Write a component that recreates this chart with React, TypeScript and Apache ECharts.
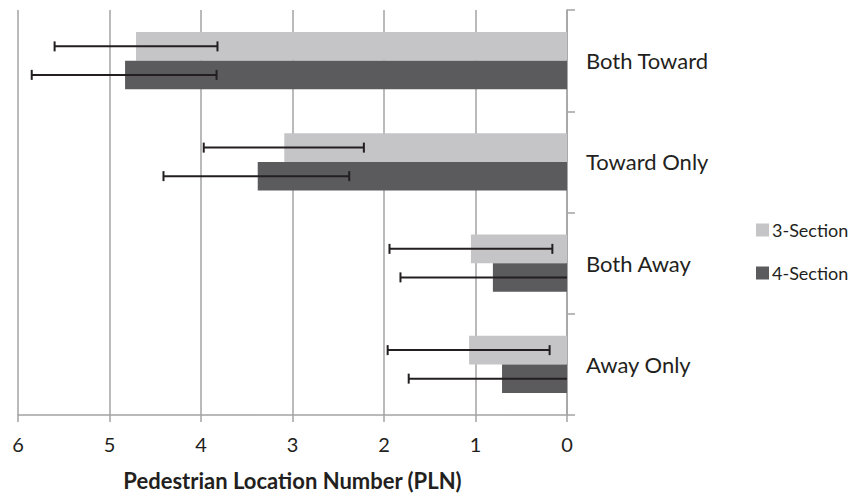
import React, { useEffect, useRef } from "react";
import * as echarts from "echarts";

const categories = ["Both Toward", "Toward Only", "Both Away", "Away Only"];
const seriesNames = ["3-Section", "4-Section"];
const values3 = [4.71, 3.09, 1.05, 1.07];
const values4 = [4.83, 3.38, 0.81, 0.71];
// error bar ends (high = left end, low = right end)
const errHigh3 = [5.6, 3.97, 1.94, 1.96];
const errLow3 = [3.82, 2.22, 0.16, 0.19];
const errHigh4 = [5.85, 4.41, 1.82, 1.73];
const errLow4 = [3.83, 2.38, -0.2, -0.31];
const xTicks = [0, 1, 2, 3, 4, 5, 6];

const colors = ["#c5c5c7", "#5b5b5e"];
const textColor = "#231f20";
const axisColor = "#a3a3a3";
const fontFamily = "Lato, 'Open Sans', sans-serif";
const barCategoryGap = "43.7%";
const gapFrac = 0.437;

function makeErrorSeries(idx: number, high: number[], low: number[]) {
  const data = categories.map((_, i) => [i, high[i], low[i]]);
  return {
    type: "custom",
    name: seriesNames[idx] + " error",
    silent: true,
    z: 5,
    data,
    encode: { x: [1, 2], y: 0 },
    renderItem: (params: any, api: any) => {
      const cat = api.value(0);
      const hi = api.value(1);
      const loRaw = api.value(2);
      const lo = Math.max(loRaw, 0);
      const band = api.size([0, 1])[1];
      const barH = (band * (1 - gapFrac)) / 2;
      const offset = idx === 0 ? -barH / 2 : barH / 2;
      const pHi = api.coord([hi, cat]);
      const pLo = api.coord([lo, cat]);
      const y = pHi[1] + offset;
      const cap = 5;
      const style = { stroke: textColor, lineWidth: 2 };
      const children: any[] = [
        { type: "line", shape: { x1: pHi[0], y1: y, x2: pLo[0], y2: y }, style },
        { type: "line", shape: { x1: pHi[0], y1: y - cap, x2: pHi[0], y2: y + cap }, style },
      ];
      if (loRaw >= 0) {
        children.push({ type: "line", shape: { x1: pLo[0], y1: y - cap, x2: pLo[0], y2: y + cap }, style });
      }
      return { type: "group", children };
    },
  };
}

export default function App() {
  const ref = useRef<HTMLDivElement>(null);
  useEffect(() => {
    if (!ref.current) return;
    const chart = echarts.init(ref.current, undefined, { renderer: "svg" });
    chart.setOption({
      animation: false,
      backgroundColor: "#ffffff",
      textStyle: { fontFamily },
      grid: { left: 18, right: 296, top: 10, bottom: 74, containLabel: false },
      legend: {
        data: seriesNames,
        orient: "vertical",
        left: 751,
        top: 216,
        itemWidth: 13,
        itemHeight: 13,
        itemGap: 25,
        icon: "rect",
        textStyle: { fontFamily, fontSize: 18, color: textColor, padding: [0, 0, 0, -2] },
      },
      xAxis: {
        type: "value",
        inverse: true,
        min: xTicks[0],
        max: xTicks[xTicks.length - 1],
        interval: 1,
        name: "Pedestrian Location Number (PLN)",
        nameLocation: "middle",
        nameGap: 54,
        nameTextStyle: { fontFamily, fontSize: 22, fontWeight: "bold", color: textColor },
        axisLine: { show: true, lineStyle: { color: axisColor, width: 1.5 } },
        axisTick: { show: true, length: 7, lineStyle: { color: axisColor, width: 1.5 } },
        axisLabel: { fontFamily, fontSize: 20, color: textColor, margin: 19 },
        splitLine: { show: true, lineStyle: { color: axisColor, width: 1.5 } },
      },
      yAxis: {
        type: "category",
        data: categories,
        position: "right",
        inverse: true,
        axisLine: { show: true, lineStyle: { color: axisColor, width: 1.5 } },
        axisTick: { show: true, length: 8, lineStyle: { color: axisColor, width: 1.5 } },
        axisLabel: { fontFamily, fontSize: 22, color: textColor, margin: 19, align: "left" },
        splitLine: { show: false },
      },
      series: [
        {
          type: "bar",
          name: seriesNames[0],
          data: values3,
          itemStyle: { color: colors[0] },
          barGap: "0%",
          barCategoryGap,
        },
        {
          type: "bar",
          name: seriesNames[1],
          data: values4,
          itemStyle: { color: colors[1] },
          barGap: "0%",
          barCategoryGap,
        },
        makeErrorSeries(0, errHigh3, errLow3),
        makeErrorSeries(1, errHigh4, errLow4),
      ],
    });
    return () => chart.dispose();
  }, []);
  return (
    <div
      ref={ref}
      style={{ position: "fixed", left: 0, top: 0, width: 863, height: 496, background: "#fff" }}
    />
  );
}
